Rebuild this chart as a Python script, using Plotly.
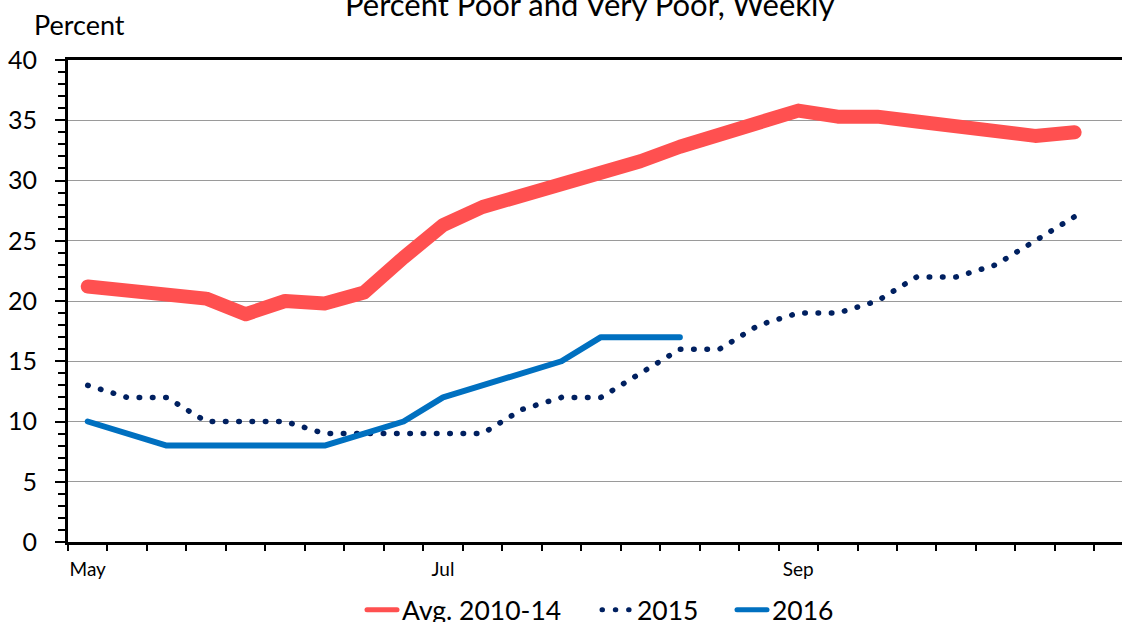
import plotly.graph_objects as go

# ---- data ----
week_index = list(range(26))
avg_2010_14 = [21.2, 20.9, 20.5, 20.2, 18.9, 20.0, 19.8, 20.7, 23.6, 26.3, 27.8, 28.7, 29.7,
               30.6, 31.6, 32.8, 33.7, 34.8, 35.8, 35.3, 35.3, 34.9, 34.5, 34.1, 33.7, 34.0]
y2015 = [13, 12, 12, 10, 10, 10, 9, 9, 9, 9, 9, 11, 12, 12, 14, 16, 16, 18, 19, 19, 20, 22,
         22, 23, 25, 27]
y2016 = [10, 9, 8, 8, 8, 8, 8, 9, 10, 12, 13, 14, 15, 17, 17, 17]
month_ticks = [0, 9, 18]
month_labels = ["May", "Jul", "Sep"]
y_ticks = [0, 5, 10, 15, 20, 25, 30, 35, 40]

FONT = "Lato, Carlito, Calibri, sans-serif"

fig = go.Figure()
fig.add_trace(go.Scatter(
    x=week_index[:len(avg_2010_14)], y=avg_2010_14, mode="lines", name="Avg. 2010-14",
    line=dict(color="#FF5050", width=14), legendwidth=190))
fig.add_trace(go.Scatter(
    x=week_index[:len(y2015)], y=y2015, mode="lines", name="2015",
    line=dict(color="#002060", width=5.5, dash="0.5px,12.8px"), legendwidth=90))
fig.add_trace(go.Scatter(
    x=week_index[:len(y2016)], y=y2016, mode="lines", name="2016",
    line=dict(color="#0070C0", width=6), legendwidth=60))

fig.update_layout(
    width=1122, height=622,
    margin=dict(l=68, r=0, t=60, b=80, autoexpand=False),
    paper_bgcolor="white", plot_bgcolor="white",
    font=dict(family=FONT, color="black"),
    showlegend=True,
    legend=dict(orientation="h", x=(362 - 68) / 1054, xanchor="left",
                y=(542 - 610) / 482, yanchor="middle",
                font=dict(size=26.5, family=FONT, color="black"),
                bgcolor="rgba(0,0,0,0)", itemsizing="constant"),
    xaxis=dict(range=[-0.5, 26.2], tickmode="array", tickvals=month_ticks,
               ticktext=month_labels, ticks="", ticklen=0,
               tickfont=dict(size=19, family=FONT, color="black"),
               ticklabelstandoff=8,
               showline=True, linecolor="black", linewidth=3, mirror=True,
               showgrid=False, zeroline=False,
               minor=dict(tick0=-0.5, dtick=1, ticks="outside", ticklen=6,
                          tickwidth=1.5, tickcolor="black", showgrid=False)),
    yaxis=dict(range=[0, 40], tickmode="array", tickvals=y_ticks,
               ticks="outside", ticklen=10, tickwidth=2, tickcolor="black",
               tickfont=dict(size=25, family=FONT, color="black"),
               ticklabelstandoff=13,
               showline=True, linecolor="black", linewidth=3,
               showgrid=True, gridcolor="#9a9a9a", gridwidth=1, zeroline=False,
               minor=dict(dtick=1, ticks="outside", ticklen=7, tickwidth=2,
                          tickcolor="black", showgrid=False)),
    annotations=[
        dict(text="Percent", xref="paper", yref="paper", x=0, y=1,
             xshift=79 - 68, yshift=60 - 24, xanchor="center", yanchor="middle",
             showarrow=False, font=dict(size=27, family=FONT, color="black")),
        dict(text="Percent Poor and Very Poor, Weekly", xref="paper", yref="paper",
             x=(589 - 68) / 1054, y=1, yshift=56, xanchor="center", yanchor="middle",
             showarrow=False, font=dict(size=31, family=FONT, color="black")),
    ],
)

post = ("document.body.style.margin='0';document.body.style.overflow='hidden';"
        "document.querySelectorAll('.js-line, .legendlines path').forEach(function(e){"
        "e.style.strokeLinecap='round';e.style.strokeLinejoin='round';});")
fig.write_html("out.html", config={"displayModeBar": False}, post_script=post)
